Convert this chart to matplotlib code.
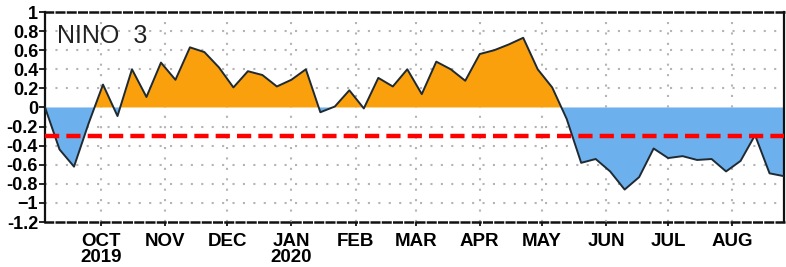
import matplotlib
matplotlib.use("Agg")
import matplotlib.pyplot as plt
import numpy as np
import datetime as dt

# ---- data ----
start_date = "2019-09-04"
n_weeks = 52
nino3 = [0.00, -0.44, -0.62, -0.17, 0.24, -0.09, 0.40, 0.11, 0.47, 0.29,
         0.63, 0.58, 0.42, 0.21, 0.38, 0.34, 0.22, 0.29, 0.40, -0.05,
         0.01, 0.18, -0.01, 0.31, 0.22, 0.40, 0.14, 0.48, 0.40, 0.28,
         0.56, 0.60, 0.66, 0.73, 0.40, 0.21, -0.12, -0.58, -0.54, -0.67,
         -0.86, -0.73, -0.43, -0.53, -0.51, -0.55, -0.54, -0.67, -0.56, -0.29,
         -0.69, -0.72]
threshold = -0.3
month_ticks = ["2019-10-01", "2019-11-01", "2019-12-01", "2020-01-01", "2020-02-01",
               "2020-03-01", "2020-04-01", "2020-05-01", "2020-06-01", "2020-07-01",
               "2020-08-01"]
month_labels = ["OCT\n2019", "NOV", "DEC", "JAN\n2020", "FEB", "MAR", "APR",
                "MAY", "JUN", "JUL", "AUG"]
y_ticks = [1, 0.8, 0.6, 0.4, 0.2, 0, -0.2, -0.4, -0.6, -0.8, -1, -1.2]
y_labels = ["1", "0.8", "0.6", "0.4", "0.2", "0", "-0.2", "-0.4", "-0.6", "-0.8", "\u22121", "-1.2"]
title = "NINO  3"

# ---- build ----
d0 = np.datetime64(start_date)
dates = (d0 + np.arange(n_weeks) * np.timedelta64(7, "D")).astype("datetime64[D]").astype(dt.datetime)
vals = np.array(nino3)
xt = [dt.datetime.fromisoformat(s) for s in month_ticks]

fig = plt.figure(figsize=(7.86, 2.67), dpi=100)
ax = fig.add_axes([0.0573, 0.1685, 0.9402, 0.7865])

tick_font = dict(family=["Liberation Sans Narrow", "Liberation Sans", "DejaVu Sans"],
                 weight="bold")

ax.set_ylim(-1.2, 1.0)
ax.set_xlim(dates[0] - dt.timedelta(days=0.8), dates[-1] + dt.timedelta(days=0.3))

# grid
for t in xt:
    ax.axvline(t, color="#b4b4b4", lw=1.5, ls=(0, (1, 4)), zorder=0)
for y in y_ticks:
    if y not in (0, 1, -1.2):
        ax.axhline(y, color="#b4b4b4", lw=1.5, ls=(0, (1, 4)), zorder=0)

ax.fill_between(dates, vals, 0, where=vals >= 0, interpolate=True,
                color="#F9A00C", lw=0, zorder=1)
ax.fill_between(dates, vals, 0, where=vals <= 0, interpolate=True,
                color="#6DB0EE", lw=0, zorder=1)
ax.plot(dates, vals, color="#1f2a33", lw=1.4, zorder=3)
ax.axhline(threshold, color="#ff0000", lw=3.2, ls=(0, (3.2, 1.6)), zorder=4)

ax.set_yticks(y_ticks)
ax.set_yticklabels(y_labels, fontsize=13, **tick_font)
ax.set_xticks(xt)
ax.set_xticklabels(month_labels, fontsize=13.5, linespacing=0.9, **tick_font)
ax.tick_params(axis="y", direction="out", length=4, width=1.2, pad=1)
ax.tick_params(axis="x", direction="out", length=3, width=1.2, pad=5)

for s in ["left", "right"]:
    ax.spines[s].set_linewidth(1.6)
    ax.spines[s].set_color("#111111")
for s in ["top", "bottom"]:
    ax.spines[s].set_linewidth(1.8)
    ax.spines[s].set_linestyle((0, (3, 1.5)))
    ax.spines[s].set_color("#111111")

ax.text(0.016, 0.945, title, transform=ax.transAxes, fontsize=18,
        family=["Liberation Sans", "DejaVu Sans"], color="#222222",
        va="top", ha="left", zorder=5)

fig.savefig("out.png", dpi=100)
